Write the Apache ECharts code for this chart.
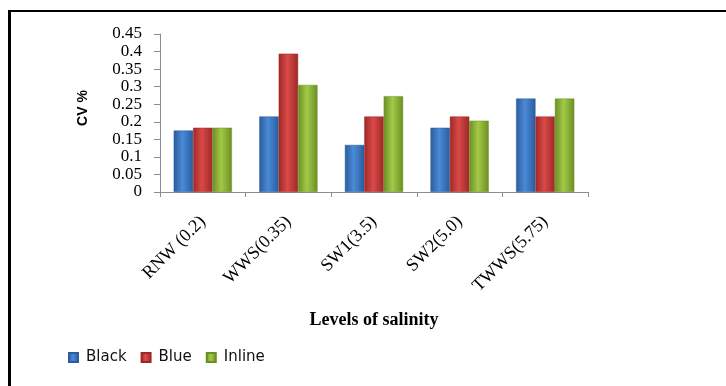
<!DOCTYPE html>
<html>
<head>
<meta charset="utf-8">
<script src="https://cdn.jsdelivr.net/npm/echarts@6/dist/echarts.min.js"></script>
<style>
  html, body { margin: 0; padding: 0; background: #fff; }
  #chart { width: 726px; height: 386px; }
</style>
</head>
<body>
<div id="chart"></div>
<script>
// Salinity levels on the category axis
const categories = ['RNW (0.2)', 'WWS(0.35)', 'SW1(3.5)', 'SW2(5.0)', 'TWWS(5.75)'];

// CV % per line type
const blackValues  = [0.175, 0.215, 0.134, 0.183, 0.266];
const blueValues   = [0.183, 0.394, 0.215, 0.215, 0.215];
const inlineValues = [0.183, 0.305, 0.273, 0.203, 0.266];

const seriesNames = ['Black', 'Blue', 'Inline'];

// Bevelled look: darker edges, lighter centre
function bevel(dark, light) {
  return new echarts.graphic.LinearGradient(0, 0, 1, 0, [
    { offset: 0, color: dark },
    { offset: 0.45, color: light },
    { offset: 1, color: dark }
  ]);
}

const palette = [
  { dark: '#2A5C9E', light: '#4A8AD6', solid: '#3B78C4' },
  { dark: '#9E2826', light: '#D94A48', solid: '#C43B39' },
  { dark: '#6A8F24', light: '#A3C947', solid: '#8DB63A' }
];

const chart = echarts.init(document.getElementById('chart'));

const serifFont = '"Liberation Serif", "Times New Roman", serif';

function barSeries(name, data, p) {
  return {
    name: name,
    type: 'bar',
    data: data,
    barGap: '0%',
    barCategoryGap: '32%',
    itemStyle: {
      color: bevel(p.dark, p.light),
      borderColor: p.dark,
      borderWidth: 0.5
    }
  };
}

chart.setOption({
  animation: false,
  backgroundColor: '#ffffff',
  color: palette.map(p => p.solid),
  grid: { left: 160, right: 138, top: 34, bottom: 194, containLabel: false },
  legend: {
    left: 63,
    top: 345,
    itemWidth: 9,
    itemHeight: 9,
    itemGap: 14,
    icon: 'rect',
    textStyle: { fontFamily: '"DejaVu Sans", sans-serif', fontSize: 15, color: '#111', padding: [0, 0, 0, 3] },
    data: seriesNames
  },
  xAxis: {
    type: 'category',
    data: categories,
    name: 'Levels of salinity',
    nameLocation: 'middle',
    nameGap: 119,
    nameTextStyle: { fontFamily: serifFont, fontWeight: 'bold', fontSize: 18, color: '#000' },
    axisLine: { lineStyle: { color: '#8c8c8c', width: 1 } },
    axisTick: { show: true, length: 5, lineStyle: { color: '#8c8c8c' } },
    axisLabel: {
      rotate: 45,
      margin: 27,
      fontFamily: serifFont,
      fontSize: 18,
      color: '#000'
    }
  },
  yAxis: {
    type: 'value',
    min: 0,
    max: 0.45,
    interval: 0.05,
    name: 'CV %',
    nameLocation: 'middle',
    nameRotate: 90,
    nameGap: 70,
    nameTextStyle: {
      fontFamily: '"Liberation Sans", Arial, sans-serif',
      fontWeight: 'bold',
      fontSize: 14,
      color: '#000',
      padding: [0, 0, 0, 10]
    },
    axisLine: { show: true, lineStyle: { color: '#8c8c8c', width: 1 } },
    axisTick: { show: true, length: 6, lineStyle: { color: '#8c8c8c' } },
    splitLine: { show: false },
    axisLabel: {
      margin: 18,
      showMinLabel: true,
      showMaxLabel: true,
      fontFamily: serifFont,
      fontSize: 17,
      color: '#000'
    }
  },
  series: [
    barSeries(seriesNames[0], blackValues, palette[0]),
    barSeries(seriesNames[1], blueValues, palette[1]),
    barSeries(seriesNames[2], inlineValues, palette[2])
  ],
  graphic: [
    // Outer frame: top and left edges
    { type: 'rect', shape: { x: 8, y: 10, width: 718, height: 2 }, style: { fill: '#000' }, silent: true },
    { type: 'rect', shape: { x: 8, y: 10, width: 3, height: 376 }, style: { fill: '#000' }, silent: true }
  ]
});
</script>
</body>
</html>
